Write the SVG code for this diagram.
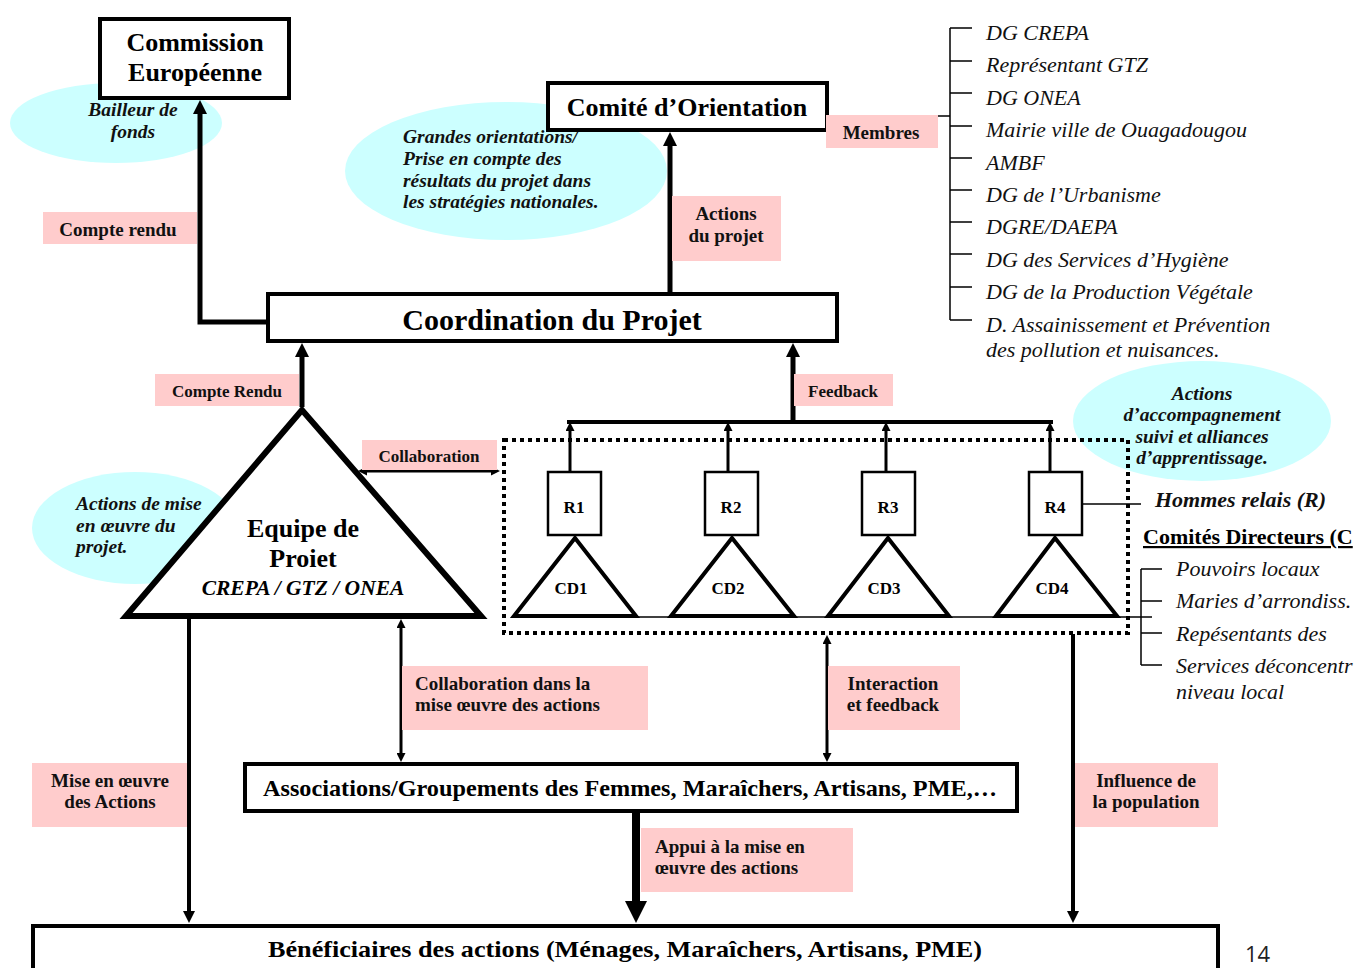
<svg xmlns="http://www.w3.org/2000/svg" width="1357" height="968" viewBox="0 0 1357 968">
<style>
.box{fill:#fff;stroke:#000;stroke-width:4}
.bub{fill:#ccffff}
.pink{fill:#ffcccc}
.t{font-family:"Liberation Serif",serif;font-weight:bold;fill:#000}
.bi{font-family:"Liberation Serif",serif;font-weight:bold;font-style:italic;fill:#111;font-size:19.5px}
.it{font-family:"Liberation Serif",serif;font-style:italic;fill:#111;font-size:22px}
.lb{font-family:"Liberation Serif",serif;font-weight:bold;fill:#111;font-size:19px}
.c{text-anchor:middle}
.thick{fill:none;stroke:#000;stroke-width:5}
.med{fill:none;stroke:#000;stroke-width:4}
.thin{fill:none;stroke:#000;stroke-width:3}
.hair{fill:none;stroke:#000;stroke-width:1.5}
</style>
<defs>
<marker id="big" viewBox="0 0 10 10" refX="0" refY="5" markerWidth="14" markerHeight="14" markerUnits="userSpaceOnUse" orient="auto"><path d="M0,0 L10,5 L0,10 z"/></marker>
<marker id="mid" viewBox="0 0 10 10" refX="0" refY="5" markerWidth="13" markerHeight="12" markerUnits="userSpaceOnUse" orient="auto"><path d="M0,0 L10,5 L0,10 z"/></marker>
<marker id="sm" viewBox="0 0 10 10" refX="0" refY="5" markerWidth="10" markerHeight="9" markerUnits="userSpaceOnUse" orient="auto-start-reverse"><path d="M0,0 L10,5 L0,10 z"/></marker>
<marker id="huge" viewBox="0 0 10 10" refX="0" refY="5" markerWidth="24" markerHeight="22" markerUnits="userSpaceOnUse" orient="auto"><path d="M0,0 L10,5 L0,10 z"/></marker>
</defs>

<!-- bubbles -->
<g id="bubble-bailleur">
<ellipse class="bub" cx="116" cy="123" rx="106" ry="40"/>
<text class="bi c" x="133" y="116">Bailleur de</text>
<text class="bi c" x="133" y="138">fonds</text>
</g>
<g id="bubble-orientations">
<ellipse class="bub" cx="506" cy="171" rx="161" ry="69"/>
<text class="bi" x="403" y="143">Grandes orientations/</text>
<text class="bi" x="403" y="165">Prise en compte des</text>
<text class="bi" x="403" y="187">résultats du projet dans</text>
<text class="bi" x="403" y="208">les stratégies nationales.</text>
</g>
<g id="bubble-mise">
<ellipse class="bub" cx="135" cy="528" rx="103" ry="56"/>
<text class="bi" x="76" y="510">Actions de mise</text>
<text class="bi" x="76" y="532">en œuvre du</text>
<text class="bi" x="76" y="553">projet.</text>
</g>
<g id="bubble-accompagnement">
<ellipse class="bub" cx="1202" cy="421" rx="129" ry="60"/>
</g>

<!-- connectors -->
<g id="connectors">
<path class="thick" d="M266,322 H200 V114" marker-end="url(#big)"/>
<path class="thick" d="M670,293 V146" marker-end="url(#big)"/>
<path class="thick" d="M302,407 V357" marker-end="url(#big)"/>
<path class="thick" d="M793,422 V357" marker-end="url(#big)"/>
<path class="med" d="M567,422 H1053"/>
<path class="thin" d="M570,471 V431" marker-end="url(#sm)"/>
<path class="thin" d="M728,471 V431" marker-end="url(#sm)"/>
<path class="thin" d="M886,471 V431" marker-end="url(#sm)"/>
<path class="thin" d="M1050,471 V431" marker-end="url(#sm)"/>
<path class="thin" d="M367,471 H491" marker-start="url(#sm)" marker-end="url(#sm)"/>
<path class="hair" d="M828,116 H950 M950,28 V320 M950,28 H972 M950,61 H972 M950,93 H972 M950,126 H972 M950,158 H972 M950,190 H972 M950,222 H972 M950,254 H972 M950,287 H972 M950,320 H972"/>
<path class="hair" d="M513,617 H1152"/>
<path class="hair" d="M1082,504 H1141"/>
<path class="hair" d="M1141,569 V665 M1141,569 H1162 M1141,601 H1162 M1141,633 H1162 M1141,665 H1162"/>
<path class="med" d="M189,619 V911" marker-end="url(#mid)"/>
<path class="thin" d="M401,628 V753" marker-start="url(#sm)" marker-end="url(#sm)"/>
<path class="thin" d="M827,644 V753" marker-start="url(#sm)" marker-end="url(#sm)"/>
<path class="med" d="M1073,634 V911" marker-end="url(#mid)"/>
<path fill="none" stroke="#000" stroke-width="8" d="M636,812 V901" marker-end="url(#huge)"/>
</g>

<!-- dotted group box -->
<g id="groupe-relais">
<rect x="504" y="440" width="624" height="193" fill="none" stroke="#000" stroke-width="4" stroke-dasharray="4 4"/>
</g>
<g id="bubble-accompagnement-text">
<text class="bi c" x="1202" y="400">Actions</text>
<text class="bi c" x="1202" y="421">d’accompagnement</text>
<text class="bi c" x="1202" y="443">suivi et alliances</text>
<text class="bi c" x="1202" y="464">d’apprentissage.</text>
</g>

<!-- nodes -->
<g id="commission">
<rect class="box" x="100" y="19" width="189" height="79"/>
<text class="t c" x="195" y="51" font-size="26">Commission</text>
<text class="t c" x="195" y="81" font-size="26">Européenne</text>
</g>
<g id="comite">
<rect class="box" x="548" y="83" width="279" height="47"/>
<text class="t c" x="687" y="116" font-size="26">Comité d’Orientation</text>
</g>
<g id="coordination">
<rect class="box" x="268" y="294" width="569" height="47"/>
<text class="t c" x="552" y="330" font-size="30">Coordination du Projet</text>
</g>
<g id="equipe">
<polygon points="302,410 126,616 481,616" fill="#fff" stroke="#000" stroke-width="6"/>
<text class="t c" x="303" y="537" font-size="26">Equipe de</text>
<text class="t c" x="303" y="567" font-size="26">Proiet</text>
<text class="t c" x="303" y="595" font-size="21.5" font-style="italic">CREPA / GTZ / ONEA</text>
</g>
<g id="r1"><rect x="548" y="472" width="53" height="63" fill="#fff" stroke="#000" stroke-width="2.5"/><text class="t c" x="574" y="513" font-size="17">R1</text></g>
<g id="r2"><rect x="705" y="472" width="53" height="63" fill="#fff" stroke="#000" stroke-width="2.5"/><text class="t c" x="731" y="513" font-size="17">R2</text></g>
<g id="r3"><rect x="862" y="472" width="53" height="63" fill="#fff" stroke="#000" stroke-width="2.5"/><text class="t c" x="888" y="513" font-size="17">R3</text></g>
<g id="r4"><rect x="1029" y="472" width="53" height="63" fill="#fff" stroke="#000" stroke-width="2.5"/><text class="t c" x="1055" y="513" font-size="17">R4</text></g>
<g id="cd1"><polygon points="575,538 514,616 636,616" fill="#fff" stroke="#000" stroke-width="4"/><text class="t c" x="571" y="594" font-size="17">CD1</text></g>
<g id="cd2"><polygon points="732,538 671,616 794,616" fill="#fff" stroke="#000" stroke-width="4"/><text class="t c" x="728" y="594" font-size="17">CD2</text></g>
<g id="cd3"><polygon points="888,538 828,616 949,616" fill="#fff" stroke="#000" stroke-width="4"/><text class="t c" x="884" y="594" font-size="17">CD3</text></g>
<g id="cd4"><polygon points="1055,538 996,616 1117,616" fill="#fff" stroke="#000" stroke-width="4"/><text class="t c" x="1052" y="594" font-size="17">CD4</text></g>
<g id="associations">
<rect class="box" x="245" y="764" width="772" height="47"/>
<text class="t" x="263" y="796" font-size="23" textLength="734" lengthAdjust="spacingAndGlyphs">Associations/Groupements des Femmes, Maraîchers, Artisans, PME,…</text>
</g>
<g id="beneficiaires">
<rect class="box" x="33" y="926" width="1185" height="60"/>
<text class="t" x="268" y="957" font-size="24" textLength="714" lengthAdjust="spacingAndGlyphs">Bénéficiaires des actions (Ménages, Maraîchers, Artisans, PME)</text>
</g>

<!-- members list -->
<g id="membres-liste">
<text class="it" x="986" y="40">DG CREPA</text>
<text class="it" x="986" y="72">Représentant GTZ</text>
<text class="it" x="986" y="105">DG ONEA</text>
<text class="it" x="986" y="137">Mairie ville de Ouagadougou</text>
<text class="it" x="986" y="170">AMBF</text>
<text class="it" x="986" y="202">DG de l’Urbanisme</text>
<text class="it" x="986" y="234">DGRE/DAEPA</text>
<text class="it" x="986" y="267">DG des Services d’Hygiène</text>
<text class="it" x="986" y="299">DG de la Production Végétale</text>
<text class="it" x="986" y="332">D. Assainissement et Prévention</text>
<text class="it" x="986" y="357">des pollution et nuisances.</text>
</g>
<g id="legende">
<text class="bi" x="1155" y="507" style="font-size:22px">Hommes relais (R)</text>
<text class="t" x="1143" y="544" font-size="22" text-decoration="underline">Comités Directeurs (C</text>
<text class="it" x="1176" y="576">Pouvoirs locaux</text>
<text class="it" x="1176" y="608">Maries d’arrondiss.</text>
<text class="it" x="1176" y="641">Repésentants des</text>
<text class="it" x="1176" y="673">Services déconcentr</text>
<text class="it" x="1176" y="699">niveau local</text>
</g>

<!-- labels -->
<g id="labels">
<rect class="pink" x="43" y="212" width="154" height="32"/>
<text class="lb c" x="118" y="236">Compte rendu</text>
<rect class="pink" x="826" y="115" width="112" height="33"/>
<text class="lb c" x="881" y="139">Membres</text>
<rect class="pink" x="672" y="196" width="109" height="65"/>
<text class="lb c" x="726" y="220">Actions</text>
<text class="lb c" x="726" y="242">du projet</text>
<rect class="pink" x="155" y="374" width="144" height="32"/>
<text class="lb c" x="227" y="397" style="font-size:17px">Compte Rendu</text>
<rect class="pink" x="794" y="374" width="99" height="32"/>
<text class="lb c" x="843" y="397" style="font-size:17px">Feedback</text>
<rect class="pink" x="362" y="440" width="135" height="30"/>
<text class="lb c" x="429" y="462" style="font-size:17px">Collaboration</text>
<rect class="pink" x="402" y="666" width="246" height="64"/>
<text class="lb" x="415" y="690">Collaboration dans la</text>
<text class="lb" x="415" y="711">mise œuvre des actions</text>
<rect class="pink" x="828" y="666" width="132" height="64"/>
<text class="lb c" x="893" y="690">Interaction</text>
<text class="lb c" x="893" y="711">et feedback</text>
<rect class="pink" x="32" y="763" width="155" height="64"/>
<text class="lb c" x="110" y="787">Mise en œuvre</text>
<text class="lb c" x="110" y="808">des Actions</text>
<rect class="pink" x="641" y="828" width="212" height="64"/>
<text class="lb" x="655" y="853">Appui à la mise en</text>
<text class="lb" x="655" y="874">œuvre des actions</text>
<rect class="pink" x="1075" y="763" width="143" height="64"/>
<text class="lb c" x="1146" y="787">Influence de</text>
<text class="lb c" x="1146" y="808">la population</text>
</g>
<text x="1245" y="962" font-family="Open Sans, sans-serif" font-size="22" fill="#222">14</text>
</svg>
